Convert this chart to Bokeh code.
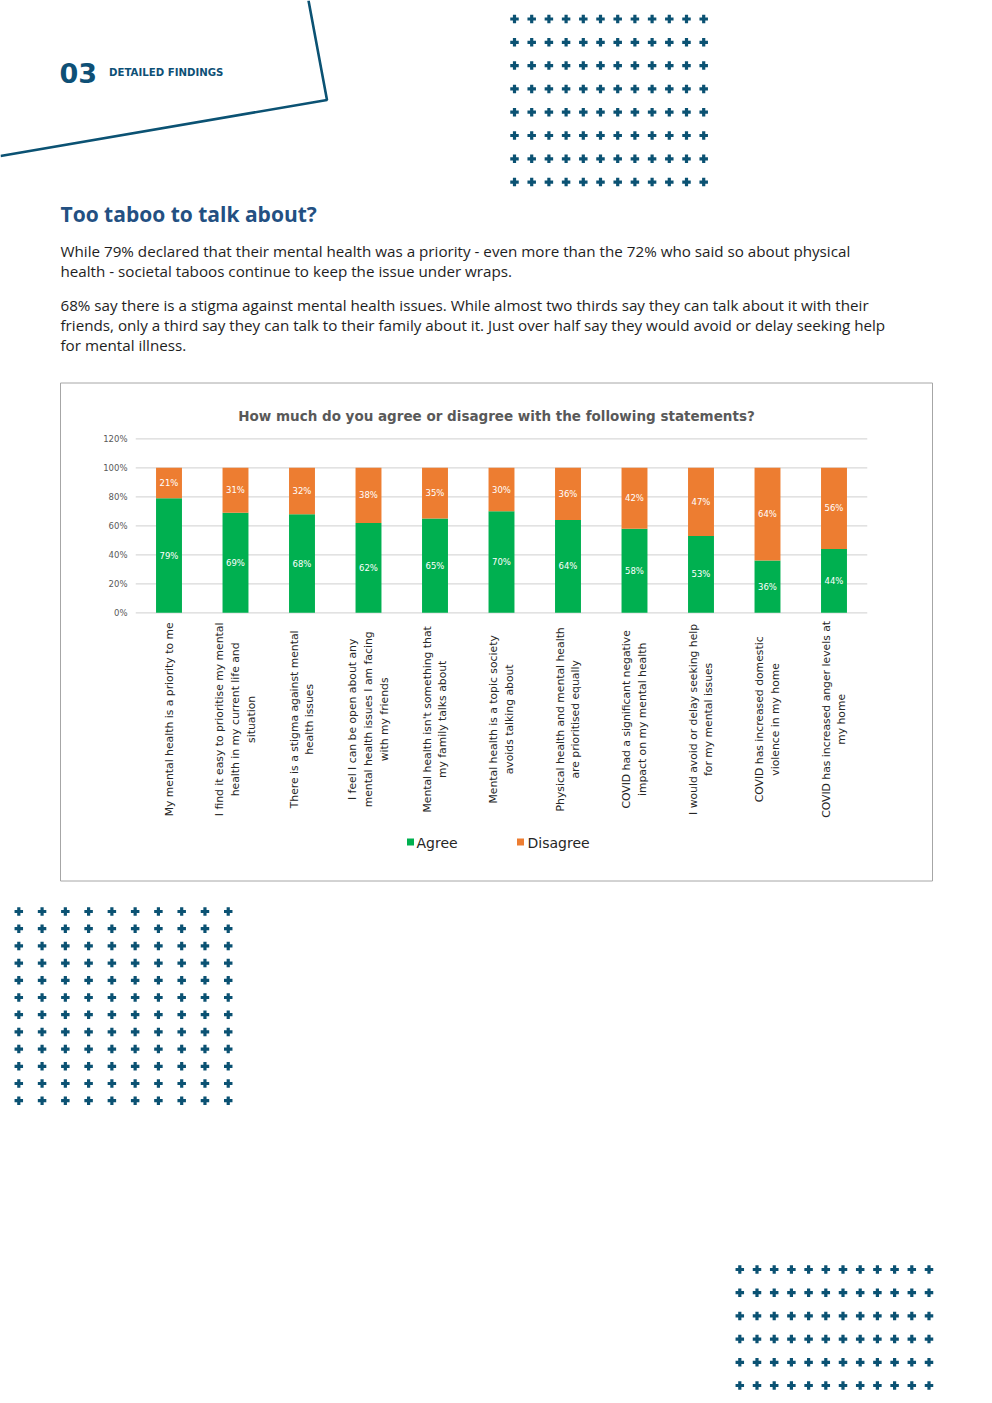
import numpy as np
from bokeh.plotting import figure
from bokeh.models import Range1d, ColumnDataSource
from bokeh.core.properties import value
from bokeh.embed import file_html
from bokeh.resources import INLINE

# ---------------- data ----------------
categories = [
    "My mental health is a priority to me",
    "I find it easy to prioritise my mental\nhealth in my current life and\nsituation",
    "There is a stigma against mental\nhealth issues",
    "I feel I can be open about any\nmental health issues I am facing\nwith my friends",
    "Mental health isn't something that\nmy family talks about",
    "Mental health is a topic society\navoids talking about",
    "Physical health and mental health\nare prioritised equally",
    "COVID had a significant negative\nimpact on my mental health",
    "I would avoid or delay seeking help\nfor my mental issues",
    "COVID has increased domestic\nviolence in my home",
    "COVID has increased anger levels at\nmy home",
]
agree = [79, 69, 68, 62, 65, 70, 64, 58, 53, 36, 44]
disagree = [21, 31, 32, 38, 35, 30, 36, 42, 47, 64, 56]
y_ticks = [0, 20, 40, 60, 80, 100, 120]
y_tick_labels = ["0%", "20%", "40%", "60%", "80%", "100%", "120%"]
series_names = ["Agree", "Disagree"]

chart_title = "How much do you agree or disagree with the following statements?"
heading = "Too taboo to talk about?"
para_lines = [
    "While 79% declared that their mental health was a priority - even more than the 72% who said so about physical",
    "health - societal taboos continue to keep the issue under wraps.",
    "68% say there is a stigma against mental health issues. While almost two thirds say they can talk about it with their",
    "friends, only a third say they can talk to their family about it. Just over half say they would avoid or delay seeking help",
    "for mental illness.",
]

# ---------------- styles ----------------
TEAL = "#0b5273"
GREEN = "#00b050"
ORANGE = "#ed7d31"
CHART_FONT = value("DejaVu Sans")
BODY_FONT = value("Open Sans")

W, H = 984, 1395
p = figure(width=W, height=H, output_backend="svg", toolbar_location=None,
           x_range=Range1d(0, W), y_range=Range1d(H, 0),
           x_axis_type=None, y_axis_type=None, min_border=0,
           background_fill_color="white", border_fill_color="white")
p.grid.visible = False
p.outline_line_color = None

# chart scales (category index / percent)
n = len(categories)
x0_page, step = 168.5, 66.5           # first bar centre and spacing on the page
y0_page, ppu = 612.3, 1.45            # 0% position and pixels per percent
p.extra_x_ranges = {"cx": Range1d((0 - x0_page) / step, (W - x0_page) / step)}
p.extra_y_ranges = {"cy": Range1d((y0_page - H) / ppu, (y0_page - 0) / ppu)}

# ---------------- page decorations ----------------
p.line([308, 326.5, 0], [0, 99.5, 155.5], line_color=TEAL, line_width=2.6)

def plus_grid(xs, ys):
    gx, gy = np.meshgrid(xs, ys)
    p.scatter(gx.ravel(), gy.ravel(), marker="cross", size=8.5,
              line_width=3.2, line_color=TEAL)

plus_grid(514 + 17.2 * np.arange(12), 18.5 + 23.3 * np.arange(8))
plus_grid(18.3 + 23.27 * np.arange(10), 911 + 17.2 * np.arange(12))
plus_grid(739.3 + 17.2 * np.arange(12), 1269 + 23.2 * np.arange(6))

p.text([59], [72], text=["03"], text_font=value("DejaVu Sans"), text_font_size="27px",
       text_font_style="bold", text_color="#0e5076", text_baseline="middle")
p.text([108.5], [71.5], text=["DETAILED FINDINGS"], text_font=value("DejaVu Sans"),
       text_font_size="10.2px", text_font_style="bold", text_color="#0e5076",
       text_baseline="middle")

p.text([60], [213], text=[heading], text_font=BODY_FONT, text_font_size="21px",
       text_font_style="bold", text_color="#235082", text_baseline="middle")
p.text([60] * 5, [250, 270, 304, 324, 344], text=para_lines, text_font=BODY_FONT,
       text_font_size="15.2px", text_color="#1e1e1e", text_baseline="middle")

# chart box
p.quad(left=[60], right=[932], top=[382.5], bottom=[880.5], fill_color=None,
       line_color="#a6a6a6", line_width=1)

p.text([496], [415], text=[chart_title], text_font=CHART_FONT, text_font_size="13.5px",
       text_font_style="bold", text_color="#595959", text_align="center",
       text_baseline="middle")

# gridlines
p.segment(x0=[-0.5] * len(y_ticks), x1=[n - 0.5] * len(y_ticks), y0=y_ticks, y1=y_ticks,
          line_color="#d9d9d9", line_width=1.2, x_range_name="cx", y_range_name="cy")

# y tick labels
p.text(x=[127] * len(y_ticks), y=y_ticks, text=y_tick_labels, text_font=CHART_FONT,
       text_font_size="8.5px", text_color="#595959", text_align="right",
       text_baseline="middle", y_range_name="cy")

# bars
idx = np.arange(n)
agree_a = np.array(agree, dtype=float)
dis_a = np.array(disagree, dtype=float)
src = ColumnDataSource(dict(
    x=idx, agree=agree_a, total=agree_a + dis_a,
    a_mid=agree_a / 2, d_mid=agree_a + dis_a / 2,
    a_lab=[f"{v}%" for v in agree], d_lab=[f"{v}%" for v in disagree],
    cat=categories,
))
p.vbar(x="x", width=0.39, bottom=0, top="agree", source=src, fill_color=GREEN,
       line_color=None, x_range_name="cx", y_range_name="cy")
p.vbar(x="x", width=0.39, bottom="agree", top="total", source=src, fill_color=ORANGE,
       line_color=None, x_range_name="cx", y_range_name="cy")

p.text(x="x", y="a_mid", text="a_lab", source=src, text_font=CHART_FONT,
       text_font_size="8.5px", text_color="white", text_align="center",
       text_baseline="middle", x_range_name="cx", y_range_name="cy")
p.text(x="x", y="d_mid", text="d_lab", source=src, text_font=CHART_FONT,
       text_font_size="8.5px", text_color="white", text_align="center",
       text_baseline="middle", x_range_name="cx", y_range_name="cy")

# category labels (rotated)
cat_y = -73.5   # percent units below the axis where labels are centred
p.text(x="x", y=cat_y, text="cat", source=src, text_font=CHART_FONT,
       text_font_size="10.8px", text_color="#262626", text_align="center",
       text_baseline="middle", angle=np.pi / 2, text_line_height=1.2,
       x_range_name="cx", y_range_name="cy")

# legend
p.scatter([410, 520], [841.5, 841.5], marker="square", size=7,
          fill_color=[GREEN, ORANGE], line_color=None)
p.text([416, 527], [842, 842], text=series_names, text_font=CHART_FONT,
       text_font_size="14px", text_color="#262626", text_baseline="middle")

open("out.html", "w").write(file_html(p, INLINE))
